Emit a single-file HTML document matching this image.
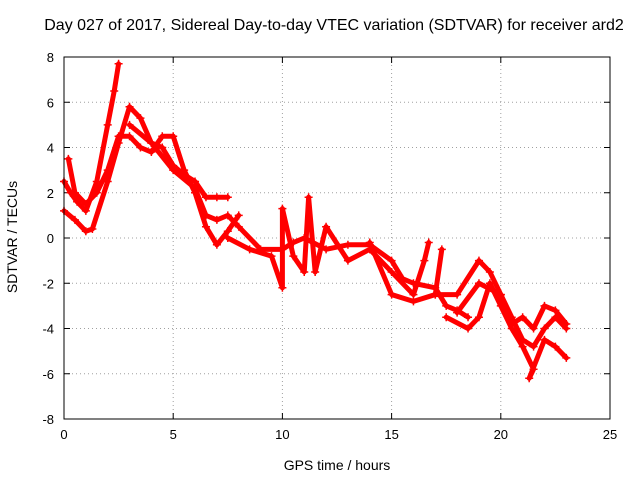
<!DOCTYPE html>
<html><head><meta charset="utf-8"><style>
body{margin:0;background:#fff}
svg{display:block;font-family:"Liberation Sans",sans-serif}
</style></head><body>
<svg id="c" width="640" height="480"></svg>
<script>
const xTicks=[0,5,10,15,20,25];
const yTicks=[-8,-6,-4,-2,0,2,4,6,8];
const trackA=[[0,2.5],[0.3,2.0],[0.6,1.6],[1,1.2],[1.5,2.5],[2,5],[2.3,6.5],[2.5,7.7]];
const trackB=[[0,1.2],[0.5,0.8],[1,0.3],[1.3,0.4],[2,2.5],[2.5,4.2],[3,5.8],[3.5,5.3],[4,4.2],[4.5,4.0],[5,3.2],[5.5,2.8],[6,2.5],[6.5,1.8],[7,1.8],[7.5,1.8]];
const trackC=[[0.2,3.5],[0.5,2.0],[1,1.5],[1.5,2.0],[2,3.0],[2.5,4.5],[3,4.5],[3.5,4.0],[4,3.8],[4.5,4.5],[5,4.5],[5.5,3.0],[6,2.0],[6.5,0.5],[7,-0.3],[7.5,0.3],[8,1.0]];
const trackD=[[3,5.0],[4,4.2],[5,3.0],[6,2.2],[6.5,1.0],[7,0.8],[7.5,1.0],[8,0.5],[9,-0.5],[10,-0.5],[10.5,-0.2],[11,0.0],[12,-0.5],[13,-0.3],[14,-0.3],[15,-1.0],[15.5,-1.8],[16,-2.0],[17,-2.2],[17.5,-3.0],[18,-3.2],[18.5,-3.5]];
const trackE=[[7.5,0.0],[8.5,-0.5],[9.5,-0.8],[10,-2.2],[10,1.3],[10.5,-0.8],[11,-1.5],[11.2,1.8],[11.5,-1.5],[12,0.5],[13,-1.0],[14,-0.5],[15,-1.5],[16,-2.5],[16.5,-1.0],[16.7,-0.2]];
const trackF=[[14,-0.2],[15,-2.5],[16,-2.8],[17,-2.5],[17.3,-0.5]];
const trackG=[[17,-2.5],[18,-2.5],[19,-1.0],[19.5,-1.5],[20,-2.5],[20.5,-3.5],[21,-4.5],[21.5,-4.8],[22,-4.0],[22.5,-3.5],[23,-4.0]];
const trackH=[[18,-3.3],[19,-2.0],[20,-2.5],[20.5,-3.8],[21,-3.5],[21.5,-4.0],[22,-3.0],[22.5,-3.2],[23,-3.8]];
const trackI=[[17.5,-3.5],[18.5,-4.0],[19,-3.5],[19.5,-2.0],[20,-3.0],[20.5,-4.0],[21,-4.8],[21.5,-5.8],[21.3,-6.2],[22,-4.5],[22.5,-4.8],[23,-5.3]];
const tracks=[trackA,trackB,trackC,trackD,trackE,trackF,trackG,trackH,trackI];

const L=64,R=610,T=57,B=419;
const sx=v=>L+(v-0)/25*(R-L);
const sy=v=>B-(v+8)/16*(B-T);
const svg=document.getElementById('c');
const NS='http://www.w3.org/2000/svg';
function mk(t,a,p){const e=document.createElementNS(NS,t);for(const k in a)e.setAttribute(k,a[k]);(p||svg).appendChild(e);return e;}

xTicks.forEach(v=>{
  if(v>0&&v<25){const g=mk('line',{x1:sx(v),x2:sx(v),y1:T,y2:B,stroke:'#a0a0a0','stroke-dasharray':'1,3'});
  
  }
  mk('line',{x1:sx(v),x2:sx(v),y1:B,y2:B-6,stroke:'#000'});
  mk('line',{x1:sx(v),x2:sx(v),y1:T,y2:T+6,stroke:'#000'});
  const t=mk('text',{x:sx(v),y:B+20,'text-anchor':'middle','font-size':13});t.textContent=v;
  
  
});
yTicks.forEach(v=>{
  if(v>-8&&v<8){const g=mk('line',{x1:L,x2:R,y1:sy(v),y2:sy(v),stroke:'#a0a0a0','stroke-dasharray':'1,3'});
  
  }
  mk('line',{x1:L,x2:L+6,y1:sy(v),y2:sy(v),stroke:'#000'});
  mk('line',{x1:R,x2:R-6,y1:sy(v),y2:sy(v),stroke:'#000'});
  const t=mk('text',{x:L-10,y:sy(v)+5,'text-anchor':'end','font-size':13});t.textContent=v;
  
  
});
tracks.forEach(tr=>{
  const g=mk('g',{});
  
  
  mk('polyline',{points:tr.map(p=>sx(p[0])+','+sy(p[1])).join(' '),fill:'none',stroke:'#ff0000','stroke-width':5,'stroke-linejoin':'round','stroke-linecap':'round'},g);
  tr.forEach(p=>{
    const x=sx(p[0]),y=sy(p[1]);
    const m=mk('path',{d:`M${x-4},${y}H${x+4}M${x},${y-4}V${y+4}`,stroke:'#ff0000','stroke-width':1.5},g);
    
    
  });
});
const bd=mk('rect',{x:L,y:T,width:R-L,height:B-T,fill:'none',stroke:'#000'});


</script>
<div style="position:absolute;left:0;top:0;width:640px;height:480px;pointer-events:none;font-family:'Liberation Sans',sans-serif">
<div style="position:absolute;left:0;width:668px;top:17px;text-align:center;font-size:16px;white-space:nowrap">Day 027 of 2017, Sidereal Day-to-day VTEC variation (SDTVAR) for receiver ard2</div>
<div style="position:absolute;left:64px;width:546px;top:457px;text-align:center;font-size:14px">GPS time / hours</div>
<div style="position:absolute;left:-68px;top:229px;width:160px;text-align:center;font-size:14px;transform:rotate(-90deg)">SDTVAR / TECUs</div>
</div>
</body></html>
